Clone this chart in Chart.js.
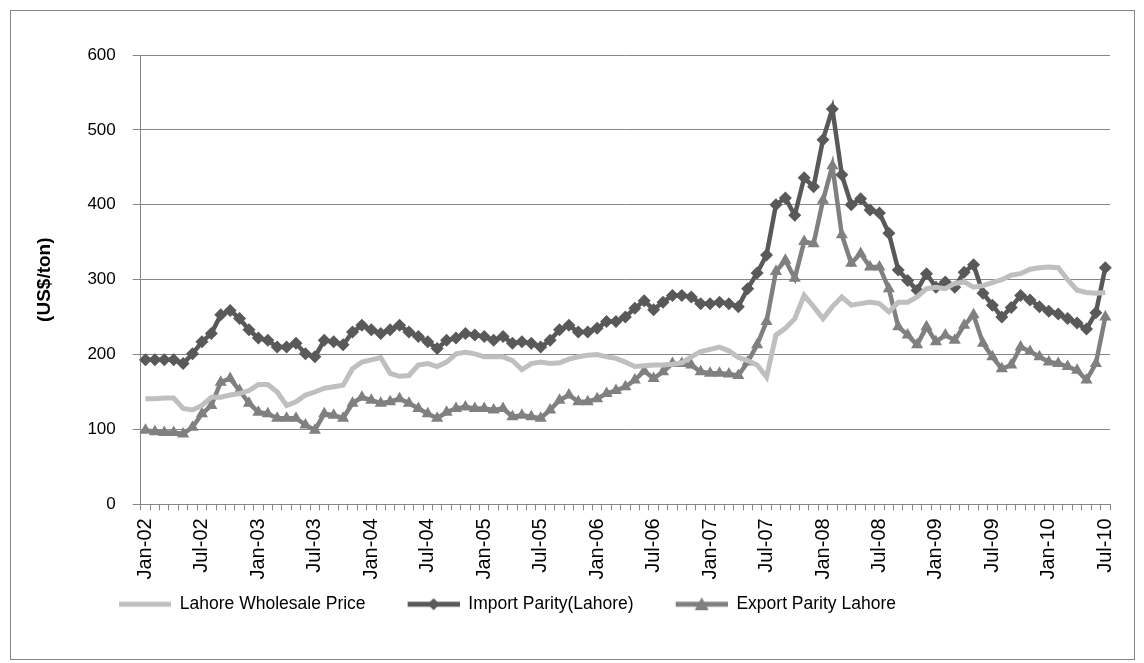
<!DOCTYPE html>
<html>
<head>
<meta charset="utf-8">
<script src="https://cdn.jsdelivr.net/npm/chart.js@4"></script>
<style>
  body { margin: 0; background: #fff; }
  #box { position: absolute; left: 10px; top: 10px; width: 1123px; height: 648px; border: 1px solid #868686; }
  #chart { position: absolute; left: 0; top: 0; }
</style>
</head>
<body>
<div id="box"></div>
<canvas id="chart" width="1144" height="663"></canvas>
<script>
// months Jan-02 .. Jul-10
const monthNames = ['Jan', 'Feb', 'Mar', 'Apr', 'May', 'Jun', 'Jul', 'Aug', 'Sep', 'Oct', 'Nov', 'Dec'];
const years = ['02', '03', '04', '05', '06', '07', '08', '09', '10'];
const labels = [];
years.forEach(y => monthNames.forEach(m => labels.push(m + '-' + y)));
labels.length = 103;

const lahoreWholesale = [
  141, 141, 142, 142, 128, 126, 132, 143, 143, 146, 148, 152,
  160, 160, 150, 132, 137, 146, 150, 155, 157, 159, 181, 190,
  193, 196, 175, 171, 172, 186, 188, 184, 190, 201, 203, 201,
  197, 197, 197, 192, 180, 188, 190, 188, 189, 194, 197, 199,
  200, 197, 195, 190, 184, 185, 186, 186, 187, 189, 197, 204,
  207, 210, 205, 196, 192, 186, 170, 226, 235, 248, 279, 264,
  248, 264, 277, 266, 268, 270, 268, 257, 270, 270, 277, 288,
  290, 288, 295, 297, 290, 292, 296, 300, 306, 308, 314, 316,
  317, 316, 300, 286, 283, 282, 283
];

const importParity = [
  193, 193, 193, 193, 188, 201, 217, 228, 253, 259, 248, 233,
  222, 219, 210, 210, 215, 201, 197, 219, 217, 213, 230, 239,
  233, 228, 233, 239, 230, 224, 217, 208, 219, 222, 228, 226,
  224, 219, 224, 215, 217, 215, 210, 219, 233, 239, 230, 230,
  235, 244, 244, 250, 262, 272, 260, 270, 279, 279, 277, 268,
  268, 270, 268, 264, 288, 309, 333, 400, 409, 386, 436, 424,
  487, 528, 440, 400, 408, 393, 389, 362, 313, 299, 286, 308,
  290, 297, 290, 310, 320, 282, 266, 250, 263, 279, 273, 264,
  258, 254, 248, 242, 234, 256, 316
];

const exportParity = [
  99, 97, 96, 96, 94, 103, 121, 132, 163, 168, 152, 135,
  123, 121, 115, 115, 115, 106, 99, 121, 119, 115, 135, 143,
  139, 135, 137, 141, 135, 128, 121, 115, 123, 128, 130, 128,
  128, 126, 128, 117, 119, 117, 115, 126, 139, 146, 137, 137,
  141, 148, 152, 157, 166, 178, 168, 177, 188, 188, 186, 177,
  175, 175, 174, 172, 190, 213, 244, 311, 326, 302, 351, 348,
  406, 452, 360, 322, 335, 317, 317, 288, 237, 226, 213, 237,
  217, 226, 219, 239, 253, 215, 197, 181, 186, 210, 204, 197,
  190, 188, 184, 179, 166, 188, 250
];

const seriesNames = ['Lahore Wholesale Price', 'Import Parity(Lahore)', 'Export Parity Lahore'];
const seriesColors = ['#bfbfbf', '#595959', '#808080'];

const fontFamily = '"Liberation Sans", Arial, sans-serif';
const font = { family: fontFamily, size: 17 };

// line+marker samples for the legend (transparent left part acts as a gap)
const GAP = 34;
function legendSample(color, marker) {
  const c = document.createElement('canvas');
  c.width = GAP + 52;
  c.height = 16;
  const g = c.getContext('2d');
  g.strokeStyle = color;
  g.lineWidth = 5;
  g.beginPath();
  g.moveTo(GAP, 8);
  g.lineTo(GAP + 52, 8);
  g.stroke();
  g.fillStyle = color;
  const cx = GAP + 26;
  if (marker === 'diamond') {
    g.beginPath();
    g.moveTo(cx, 2); g.lineTo(cx + 6, 8); g.lineTo(cx, 14); g.lineTo(cx - 6, 8);
    g.closePath();
    g.fill();
  } else if (marker === 'triangle') {
    g.beginPath();
    g.moveTo(cx, 1); g.lineTo(cx + 7, 14); g.lineTo(cx - 7, 14);
    g.closePath();
    g.fill();
  }
  return c;
}
const samples = [
  legendSample(seriesColors[0], null),
  legendSample(seriesColors[1], 'diamond'),
  legendSample(seriesColors[2], 'triangle')
];

// move the legend a bit to the left, like the original
const legendShift = {
  id: 'legendShift',
  afterLayout(chart) {
    chart.legend.left -= 81;
    chart.legend.right -= 81;
  }
};

new Chart(document.getElementById('chart'), {
  type: 'line',
  data: {
    labels: labels,
    datasets: [
      {
        label: seriesNames[0],
        data: lahoreWholesale,
        borderColor: seriesColors[0],
        backgroundColor: seriesColors[0],
        borderWidth: 5,
        pointRadius: 0,
        tension: 0
      },
      {
        label: seriesNames[1],
        data: importParity,
        borderColor: seriesColors[1],
        backgroundColor: seriesColors[1],
        borderWidth: 4.5,
        pointStyle: 'rectRot',
        pointRadius: 6.5,
        pointBorderWidth: 0,
        tension: 0
      },
      {
        label: seriesNames[2],
        data: exportParity,
        borderColor: seriesColors[2],
        backgroundColor: seriesColors[2],
        borderWidth: 4.5,
        pointStyle: 'triangle',
        pointRadius: 7,
        pointBorderWidth: 0,
        tension: 0
      }
    ]
  },
  options: {
    responsive: false,
    animation: false,
    layout: { padding: { left: 33, right: 34, top: 55, bottom: 40 } },
    plugins: {
      tooltip: { enabled: false },
      legend: {
        position: 'bottom',
        labels: {
          usePointStyle: true,
          pointStyleWidth: GAP + 52,
          boxHeight: 16,
          padding: 8,
          color: '#000',
          font: { family: fontFamily, size: 17.5 },
          generateLabels: function (chart) {
            const items = Chart.defaults.plugins.legend.labels.generateLabels(chart);
            items.forEach((it, i) => { it.pointStyle = samples[i]; });
            return items;
          }
        }
      }
    },
    scales: {
      x: {
        offset: true,
        grid: { offset: true, drawOnChartArea: false, color: '#868686', tickLength: 6 },
        border: { color: '#868686' },
        ticks: {
          autoSkip: false,
          maxRotation: 90,
          minRotation: 90,
          color: '#000',
          font: { family: fontFamily, size: 20 },
          padding: 8,
          callback: function (v, i) { return i % 6 === 0 ? labels[i] : ''; }
        }
      },
      y: {
        min: 0,
        max: 600,
        grid: { color: '#868686', tickLength: 8 },
        border: { color: '#868686' },
        ticks: { stepSize: 100, color: '#000', font: font, padding: 17 },
        title: {
          display: true,
          text: '(US$/ton)',
          color: '#000',
          font: { family: fontFamily, size: 19, weight: 'bold' },
          padding: { top: 0, bottom: 14.6 }
        }
      }
    }
  },
  plugins: [legendShift]
});
</script>
</body>
</html>
